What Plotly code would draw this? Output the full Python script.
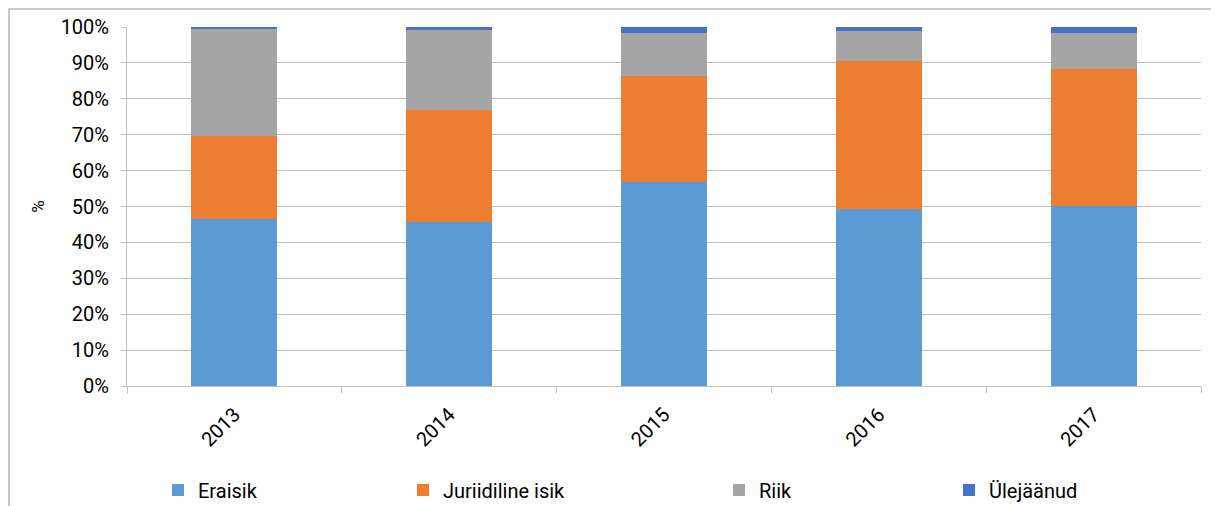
import plotly.graph_objects as go

years = ["2013", "2014", "2015", "2016", "2017"]
eraisik = [46.5, 45.8, 56.8, 49.3, 50.1]
juriidiline = [23.1, 31.1, 29.6, 41.3, 38.2]
riik = [29.8, 22.3, 11.9, 8.3, 10.0]
ulejaanud = [0.6, 0.8, 1.7, 1.1, 1.7]

series_names = ["Eraisik", "Juriidiline isik", "Riik", "Ülejäänud"]
series_vals = [eraisik, juriidiline, riik, ulejaanud]
colors = ["#5B9BD5", "#ED7D31", "#A5A5A5", "#4472C4"]

W, H = 1219, 506
OFF = 8  # page body margin offset (screen px -> figure px)
# plot area in screen pixels
SL, SR, ST, SB = 127, 1201, 27, 386
L = SL - OFF
T = ST - OFF
R = W - (SR - OFF)
B = H - (SB - OFF)
pw = W - L - R
ph = H - T - B

def px_x(p):  # screen px -> paper
    return (p - OFF - L) / pw

def px_y(p):
    return (H - B - (p - OFF)) / ph

legend_text_px = [197, 442, 758, 988]
legend_keys = ["legend", "legend2", "legend3", "legend4"]

fig = go.Figure()
for name, vals, col, lk in zip(series_names, series_vals, colors, legend_keys):
    fig.add_trace(go.Bar(x=years, y=vals, name=name, marker=dict(color=col, line=dict(width=0)),
                         legend=lk))

font_family = "Roboto, Arial, sans-serif"

layout_legends = {}
for lk, lx in zip(legend_keys, legend_text_px):
    layout_legends[lk] = dict(x=px_x(lx - 39), xanchor="left", y=px_y(490), yanchor="middle",
                              orientation="h", bgcolor="rgba(0,0,0,0)",
                              font=dict(size=20, color="#000000", family=font_family),
                              itemwidth=30, tracegroupgap=0)

fig.update_layout(
    width=W, height=H,
    margin=dict(l=L, r=R, t=T, b=B, autoexpand=False),
    barmode="stack",
    bargap=0.6,
    plot_bgcolor="white",
    paper_bgcolor="white",
    font=dict(family=font_family, size=20, color="#000000"),
    showlegend=True,
    **layout_legends,
)

fig.update_xaxes(
    type="category",
    showgrid=False,
    showline=True, linecolor="#BFBFBF", linewidth=1,
    ticks="outside", tickson="boundaries", ticklen=6, tickcolor="#BFBFBF",
    tickangle=-45,
    ticklabelstandoff=8,
    tickfont=dict(size=20, family=font_family),
    automargin=False,
)
fig.update_yaxes(
    range=[0, 100],
    tickvals=[0, 10, 20, 30, 40, 50, 60, 70, 80, 90, 100],
    ticktext=[f"{v}%" for v in range(0, 101, 10)],
    showgrid=True, gridcolor="#BFBFBF", gridwidth=1,
    showline=True, linecolor="#BFBFBF", linewidth=1,
    ticks="outside", ticklen=5, tickcolor="#BFBFBF",
    ticklabelstandoff=8,
    tickfont=dict(size=20, family=font_family),
    zeroline=False,
    automargin=False,
    title=dict(text="%", font=dict(size=17, family=font_family), standoff=11),
)

# outer chart border (left and top edges visible in the reference)
fig.add_shape(type="rect", xref="paper", yref="paper",
              x0=px_x(OFF + 1), x1=px_x(1240), y0=px_y(530), y1=px_y(OFF + 1),
              line=dict(color="#C8C8C8", width=2), fillcolor="rgba(0,0,0,0)", layer="below")

fig.write_html("out.html")
